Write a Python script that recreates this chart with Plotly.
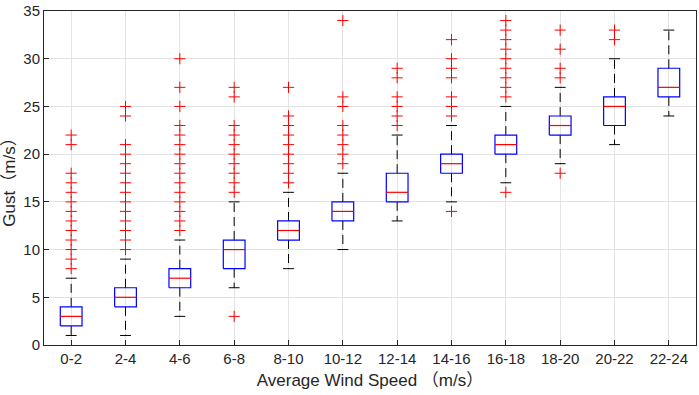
import plotly.graph_objects as go

categories = ["0-2", "2-4", "4-6", "6-8", "8-10", "10-12", "12-14", "14-16",
              "16-18", "18-20", "20-22", "22-24"]
q1 = [2, 4, 6, 8, 11, 13, 15, 18, 20, 22, 23, 26]
median = [3, 5, 7, 10, 12, 14, 16, 19, 21, 23, 25, 27]
q3 = [4, 6, 8, 11, 13, 15, 18, 20, 22, 24, 26, 29]
lower_whisker = [1, 1, 3, 6, 8, 10, 13, 15, 17, 19, 21, 24]
upper_whisker = [7, 9, 11, 15, 16, 18, 22, 23, 25, 27, 30, 33]
outliers = [
    [8, 9, 10, 11, 12, 13, 14, 15, 16, 17, 18, 21, 22],
    [10, 11, 12, 13, 14, 15, 16, 17, 18, 19, 20, 21, 24, 25],
    [12, 13, 14, 15, 16, 17, 18, 19, 20, 21, 22, 23, 25, 27, 30],
    [3, 16, 17, 18, 19, 20, 21, 22, 23, 26, 27],
    [17, 18, 19, 20, 21, 22, 23, 24, 27],
    [19, 20, 21, 22, 23, 25, 26, 34],
    [23, 24, 25, 26, 28, 29],
    [14, 24, 25, 26, 28, 29, 30, 32],
    [16, 26, 27, 28, 29, 30, 31, 32, 33, 34],
    [18, 28, 29, 31, 33],
    [32, 33],
    [],
]
y_ticks = [0, 5, 10, 15, 20, 25, 30, 35]

BOX_HW = 0.2
CAP_HW = 0.1
positions = list(range(1, len(categories) + 1))

box_x, box_y = [], []
med_x, med_y = [], []
wh_x, wh_y = [], []
cap_x, cap_y = [], []
out_x, out_y = [], []
for i, p in enumerate(positions):
    box_x += [p - BOX_HW, p + BOX_HW, p + BOX_HW, p - BOX_HW, p - BOX_HW, None]
    box_y += [q1[i], q1[i], q3[i], q3[i], q1[i], None]
    med_x += [p - BOX_HW, p + BOX_HW, None]
    med_y += [median[i], median[i], None]
    wh_x += [p, p, None, p, p, None]
    wh_y += [q3[i], upper_whisker[i], None, q1[i], lower_whisker[i], None]
    cap_x += [p - CAP_HW, p + CAP_HW, None, p - CAP_HW, p + CAP_HW, None]
    cap_y += [upper_whisker[i], upper_whisker[i], None,
              lower_whisker[i], lower_whisker[i], None]
    for v in outliers[i]:
        out_x.append(p)
        out_y.append(v)

fig = go.Figure()
fig.add_trace(go.Scatter(x=wh_x, y=wh_y, mode="lines",
                         line=dict(color="black", width=1, dash="9px,5px"),
                         hoverinfo="skip", showlegend=False))
fig.add_trace(go.Scatter(x=cap_x, y=cap_y, mode="lines",
                         line=dict(color="black", width=1),
                         hoverinfo="skip", showlegend=False))
fig.add_trace(go.Scatter(x=box_x, y=box_y, mode="lines",
                         line=dict(color="#0000ff", width=1.2),
                         hoverinfo="skip", showlegend=False))
fig.add_trace(go.Scatter(x=med_x, y=med_y, mode="lines",
                         line=dict(color="#ff0000", width=1.2),
                         hoverinfo="skip", showlegend=False))
fig.add_trace(go.Scatter(x=out_x, y=out_y, mode="markers",
                         marker=dict(symbol="cross-thin", size=8,
                                     line=dict(color="#ff0000", width=1)),
                         hoverinfo="skip", showlegend=False, cliponaxis=False))

font_family = "Arial, Liberation Sans, Noto Sans CJK SC, sans-serif"
axis_common = dict(
    showline=True, linecolor="#262626", linewidth=1, mirror=True,
    ticks="inside", ticklen=5, tickcolor="#262626",
    showgrid=True, gridcolor="#e3e3e3", gridwidth=1,
    zeroline=False, ticklabeloverflow="allow",
    tickfont=dict(family=font_family, size=15, color="#262626"),
)
fig.update_layout(
    width=699, height=395,
    margin=dict(l=44, r=2, t=6, b=50),
    paper_bgcolor="white", plot_bgcolor="white",
    font=dict(family=font_family, color="#262626"),
    xaxis=dict(
        range=[0.5, 12.5], tickmode="array", tickvals=positions,
        ticktext=categories,
        title=dict(text="Average Wind Speed （m/s）",
                   font=dict(family=font_family, size=17, color="#262626"),
                   standoff=8),
        **axis_common,
    ),
    yaxis=dict(
        range=[0, 35.001], tickmode="array", tickvals=y_ticks,
        title=dict(text="Gust（m/s）",
                   font=dict(family=font_family, size=17, color="#262626"),
                   standoff=4),
        **axis_common,
    ),
)
fig.write_html("out.html",
               config={"displayModeBar": False},
               post_script="document.body.style.margin='0px';"
                           "document.body.style.overflow='hidden';")
